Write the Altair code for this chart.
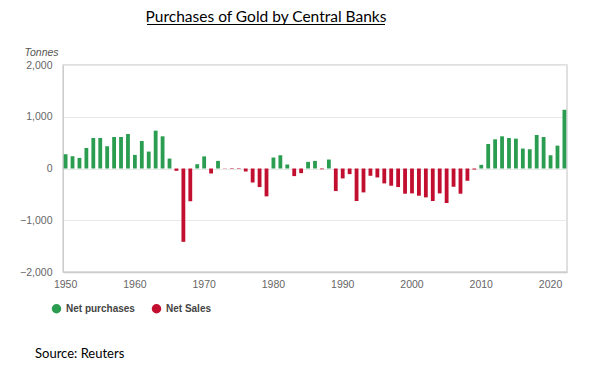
import altair as alt
import pandas as pd

years = list(range(1950, 2023))
values = [
    276, 237, 205, 397, 590, 590, 430, 609, 609, 667,
    263, 532, 327, 731, 622, 192, -45, -1417, -635, 83,
    234, -96, 147, -5, -10, -10, -58, -270, -359, -538,
    212, 256, 77, -147, -90, 128, 147, -15, 173, -436,
    -192, -109, -628, -462, -141, -173, -288, -333, -359, -487,
    -481, -526, -558, -628, -481, -667, -353, -487, -237, -20,
    71, 474, 564, 622, 590, 577, 385, 372, 647, 609,
    256, 442, 1135,
]
series = ["Net purchases", "Net Sales"]
colors = ["#2a9d50", "#c20e2f"]
y_ticks = [-2000, -1000, 0, 1000, 2000]
x_ticks = [1950, 1960, 1970, 1980, 1990, 2000, 2010, 2020]

df = pd.DataFrame({"Year": years, "Tonnes": values})
df["Type"] = [series[0] if v >= 0 else series[1] for v in values]

bars = alt.Chart(df).mark_bar().encode(
    x=alt.X("Year:O", scale=alt.Scale(paddingInner=0.45, paddingOuter=0.1),
            axis=alt.Axis(values=x_ticks, labelAngle=0, ticks=False, title=None,
                          labelColor="#666", labelFontSize=10.5, labelFont="Liberation Sans",
                          labelPadding=7, domainColor="#cccccc", domainWidth=1.5)),
    y=alt.Y("Tonnes:Q", scale=alt.Scale(domain=[-2000, 2000], nice=False),
            axis=alt.Axis(values=y_ticks, format=",.0f", ticks=False, title="Tonnes",
                          labelColor="#666", labelFontSize=10.5, labelFont="Liberation Sans",
                          labelPadding=11, domainColor="#cccccc", gridColor="#e8e8e8",
                          titleAngle=0, titleX=-39, titleY=-13, titleAlign="left",
                          titleBaseline="middle", titleFontStyle="italic",
                          titleFontWeight="normal", titleFontSize=10.5,
                          titleColor="#555", titleFont="Liberation Sans")),
    color=alt.Color("Type:N", scale=alt.Scale(domain=series, range=colors),
                    legend=alt.Legend(orient="none", legendX=-12, legendY=238,
                                      direction="horizontal", title=None,
                                      symbolType="circle", symbolSize=90,
                                      labelFontWeight="bold", labelFontSize=10,
                                      labelColor="#444", labelFont="Liberation Sans",
                                      columnPadding=16, symbolOpacity=1)),
)

title = alt.Chart(pd.DataFrame({"t": ["Purchases of Gold by Central Banks"]})).mark_text(
    font="Lato", fontSize=15.5, color="black", align="center",
    baseline="alphabetic"
).encode(x=alt.value(203), y=alt.value(-43), text="t:N")

underline = alt.Chart(pd.DataFrame({"a": [0]})).mark_rule(color="black", strokeWidth=1).encode(
    x=alt.value(84), x2=alt.value(322), y=alt.value(-40.5)
)

source = alt.Chart(pd.DataFrame({"t": ["Source: Reuters"]})).mark_text(
    font="Lato", fontSize=13, color="black", align="left",
    baseline="alphabetic"
).encode(x=alt.value(-28), y=alt.value(292.5), text="t:N")

chart = alt.layer(bars, title, underline, source).properties(
    width=504, height=207,
    padding={"left": 55, "top": 57, "right": 13, "bottom": 92},
    autosize="none",
).configure_view(stroke="#d6d6d6", strokeWidth=1.5)

chart.save("out.html", embed_options={"renderer": "svg", "actions": False})
